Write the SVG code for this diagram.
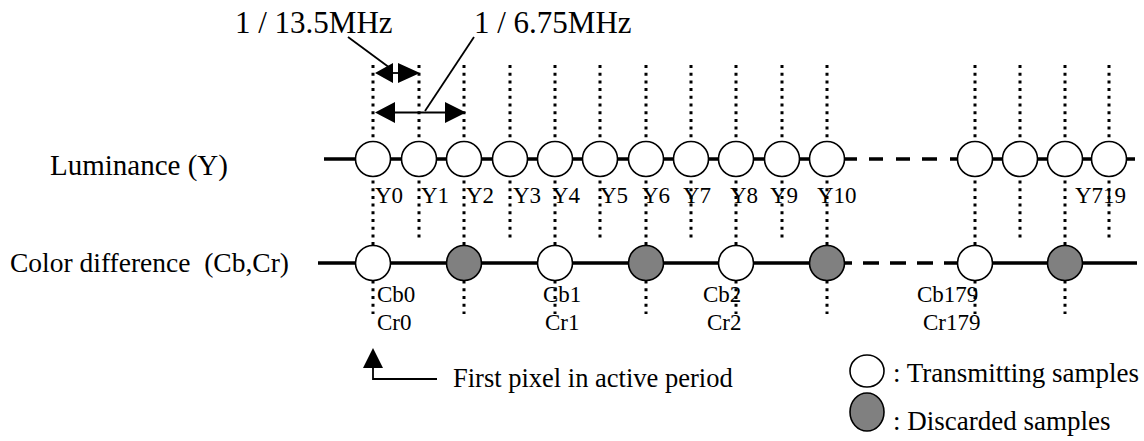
<svg xmlns="http://www.w3.org/2000/svg" width="1144" height="441" viewBox="0 0 1144 441">
<style>
text{font-family:"Liberation Serif","Times New Roman",serif;fill:#000;white-space:pre}
.t{font-size:31px}
.h{font-size:29px}
.h2{font-size:27.5px}
.l{font-size:23px}
.n{font-size:26.5px}
.m{font-size:27px}
.dot{stroke:#000;stroke-width:3;stroke-dasharray:3 4.7;fill:none}
.ax{stroke:#000;stroke-width:3.5;fill:none}
.thin{stroke:#000;stroke-width:1.8;fill:none}
.w{fill:#fff;stroke:#000;stroke-width:1.6}
.g{fill:#808080;stroke:#000;stroke-width:1.6}
</style>
<defs>
<circle id="c" r="17.5"/>
</defs>
<rect width="1144" height="441" fill="#fff"/>

<g id="connectors">
  <path class="ax" d="M324 159H857M869 159H883M896 159H910M922 159H937M950 159H1135"/>
  <path class="ax" d="M318 263H852M863 263H879M890 263H906M917 263H933M944 263H1137"/>
  <path class="dot" d="M373 65V314M464 65V314M555 65V314M646 65V314M736 65V314M827 65V314M975 65V314M1065 65V314"/>
  <path class="dot" d="M419 65V239M510 65V239M600 65V239M691 65V239M782 65V239M1020 65V239M1109 65V239"/>
  <path class="thin" d="M392 73H399"/>
  <path d="M375 73L393 63V83Z M420 73L398 63V83Z"/>
  <path class="thin" d="M394 112.5H446"/>
  <path d="M375 112.5L395 102V123Z M466 112.5L445 102V123Z"/>
  <path class="thin" d="M348 37L390 68"/>
  <path class="thin" d="M474 37L425 111"/>
  <path class="thin" d="M373 366V379H437"/>
  <path d="M373 348L363 368H383Z"/>
</g>

<g id="luma">
  <g id="y0"><use href="#c" x="373" y="159" class="w"/></g>
  <g id="y1"><use href="#c" x="419" y="159" class="w"/></g>
  <g id="y2"><use href="#c" x="464" y="159" class="w"/></g>
  <g id="y3"><use href="#c" x="510" y="159" class="w"/></g>
  <g id="y4"><use href="#c" x="555" y="159" class="w"/></g>
  <g id="y5"><use href="#c" x="600" y="159" class="w"/></g>
  <g id="y6"><use href="#c" x="646" y="159" class="w"/></g>
  <g id="y7"><use href="#c" x="691" y="159" class="w"/></g>
  <g id="y8"><use href="#c" x="736" y="159" class="w"/></g>
  <g id="y9"><use href="#c" x="782" y="159" class="w"/></g>
  <g id="y10"><use href="#c" x="827" y="159" class="w"/></g>
  <g id="y716"><use href="#c" x="975" y="159" class="w"/></g>
  <g id="y717"><use href="#c" x="1020" y="159" class="w"/></g>
  <g id="y718"><use href="#c" x="1065" y="159" class="w"/></g>
  <g id="y719"><use href="#c" x="1109" y="159" class="w"/></g>
</g>

<g id="chroma">
  <g id="c0"><use href="#c" x="373" y="263" class="w"/></g>
  <g id="c0d"><use href="#c" x="464" y="263" class="g"/></g>
  <g id="c1"><use href="#c" x="555" y="263" class="w"/></g>
  <g id="c1d"><use href="#c" x="646" y="263" class="g"/></g>
  <g id="c2"><use href="#c" x="736" y="263" class="w"/></g>
  <g id="c2d"><use href="#c" x="827" y="263" class="g"/></g>
  <g id="c179"><use href="#c" x="975" y="263" class="w"/></g>
  <g id="c179d"><use href="#c" x="1065" y="263" class="g"/></g>
</g>

<g id="labels">
  <text class="t" x="235" y="33">1 / 13.5MHz</text>
  <text class="t" x="474" y="33">1 / 6.75MHz</text>
  <text class="h" x="50" y="175">Luminance (Y)</text>
  <text class="h2" x="10" y="272" xml:space="preserve">Color difference  (Cb,Cr)</text>
  <text class="l" x="375" y="203">Y0</text>
  <text class="l" x="421" y="203">Y1</text>
  <text class="l" x="466" y="203">Y2</text>
  <text class="l" x="513" y="203">Y3</text>
  <text class="l" x="552" y="203">Y4</text>
  <text class="l" x="600" y="203">Y5</text>
  <text class="l" x="642" y="203">Y6</text>
  <text class="l" x="683" y="203">Y7</text>
  <text class="l" x="730" y="203">Y8</text>
  <text class="l" x="770" y="203">Y9</text>
  <text class="l" x="817" y="203">Y10</text>
  <text class="l" x="1075" y="203">Y719</text>
  <text class="l" x="377" y="302">Cb0</text>
  <text class="l" x="377" y="330">Cr0</text>
  <text class="l" x="543" y="302">Cb1</text>
  <text class="l" x="545" y="330">Cr1</text>
  <text class="l" x="703" y="302">Cb2</text>
  <text class="l" x="707" y="330">Cr2</text>
  <text class="l" x="917" y="302">Cb179</text>
  <text class="l" x="923" y="330">Cr179</text>
  <text class="n" x="453" y="387">First pixel in active period</text>
</g>

<g id="legend">
  <g id="legend-transmit">
    <ellipse cx="867" cy="371" rx="17" ry="16" class="w"/>
    <text class="m" x="893" y="382">: Transmitting samples</text>
  </g>
  <g id="legend-discard">
    <ellipse cx="867" cy="412" rx="17" ry="19" class="g"/>
    <text class="m" x="893" y="430">: Discarded samples</text>
  </g>
</g>
</svg>
